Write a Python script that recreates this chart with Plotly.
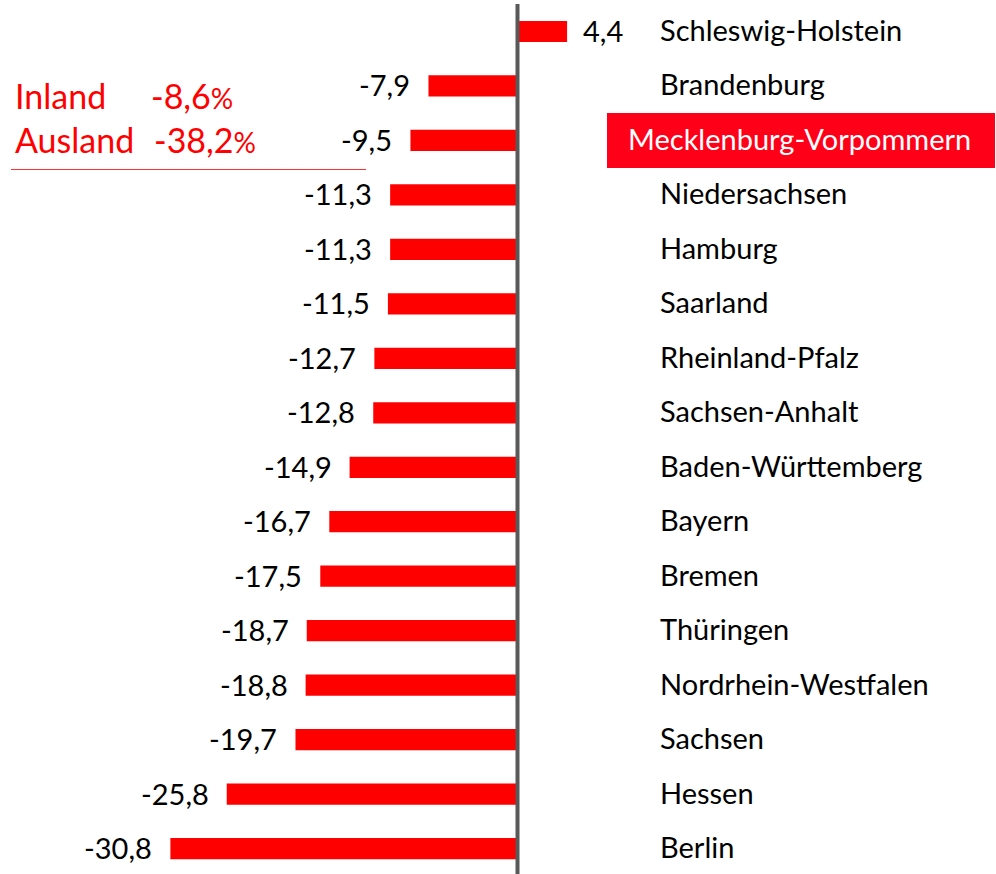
import plotly.graph_objects as go

# --- Daten ---
laender = ["Schleswig-Holstein", "Brandenburg", "Mecklenburg-Vorpommern", "Niedersachsen",
           "Hamburg", "Saarland", "Rheinland-Pfalz", "Sachsen-Anhalt", "Baden-Württemberg",
           "Bayern", "Bremen", "Thüringen", "Nordrhein-Westfalen", "Sachsen", "Hessen", "Berlin"]
werte = [4.4, -7.9, -9.5, -11.3, -11.3, -11.5, -12.7, -12.8, -14.9,
         -16.7, -17.5, -18.7, -18.8, -19.7, -25.8, -30.8]
hervorgehoben = "Mecklenburg-Vorpommern"
zusatz_labels = ["Inland", "Ausland"]
zusatz_werte = ["-8,6", "-38,2"]

FONT = "Lato"
ROT = "#FF0000"

fig = go.Figure()

fig.add_trace(go.Bar(
    x=werte, y=laender, orientation="h",
    marker=dict(color=ROT, line=dict(width=0)),
    width=0.39, hoverinfo="none"
))

# Werte-Beschriftungen
for land, w in zip(laender, werte):
    txt = f"{w:.1f}".replace(".", ",")
    fig.add_annotation(
        x=w, y=land, text=txt, showarrow=False,
        xanchor="left" if w > 0 else "right",
        xshift=14 if w > 0 else -16, yshift=1,
        font=dict(family=FONT, size=29, color="black")
    )

# Ländernamen rechts
idx_h = laender.index(hervorgehoben)
fig.add_shape(type="rect", xref="paper", yref="y", x0=607 / 996, x1=995 / 996,
              y0=idx_h - 0.505, y1=idx_h + 0.505, fillcolor="#FF0019", line=dict(width=0),
              layer="below")
for land in laender:
    hl = land == hervorgehoben
    fig.add_annotation(
        x=9.6 if hl else 12.47, y=land, text=land, showarrow=False, xanchor="left",
        yshift=2, font=dict(family=FONT, size=29, color="white" if hl else "black")
    )

# Nulllinie
fig.add_shape(type="line", xref="x", yref="paper", x0=0, x1=0, y0=0, y1=1 - 4 / 874,
              line=dict(color="#595959", width=4))

# Inland / Ausland
for i, (lab, val) in enumerate(zip(zusatz_labels, zusatz_werte)):
    ypos = 1 - (95 + 44 * i) / 874
    fig.add_annotation(x=13 / 996, y=ypos, xref="paper", yref="paper", text=lab,
                       showarrow=False, xanchor="left", yanchor="middle",
                       font=dict(family=FONT, size=34, color=ROT))
    fig.add_annotation(x=(149 + 3 * i) / 996, y=ypos, xref="paper", yref="paper",
                       text=val + "<span style='font-size:28px'>%</span>",
                       showarrow=False, xanchor="left", yanchor="middle",
                       font=dict(family=FONT, size=34, color=ROT))
fig.add_shape(type="line", xref="paper", yref="paper", x0=11 / 996, x1=366 / 996,
              y0=1 - 169.5 / 874, y1=1 - 169.5 / 874, line=dict(color="#FF3030", width=1.2))

px_per_unit = 11.27
x0 = -517.5 / px_per_unit
x1 = (996 - 517.5) / px_per_unit
row_px = 54.47
r0 = -31.5 / row_px
r1 = r0 + 874 / row_px

fig.update_layout(
    width=996, height=874,
    margin=dict(l=0, r=0, t=0, b=0),
    plot_bgcolor="white", paper_bgcolor="white",
    showlegend=False,
    xaxis=dict(range=[x0, x1], visible=False, fixedrange=True),
    yaxis=dict(range=[r1, r0], visible=False, categoryorder="array",
               categoryarray=laender, fixedrange=True),
)

fig.write_html("out.html", config={"displayModeBar": False},
               post_script="document.body.style.margin='0';document.body.style.overflow='hidden';")
